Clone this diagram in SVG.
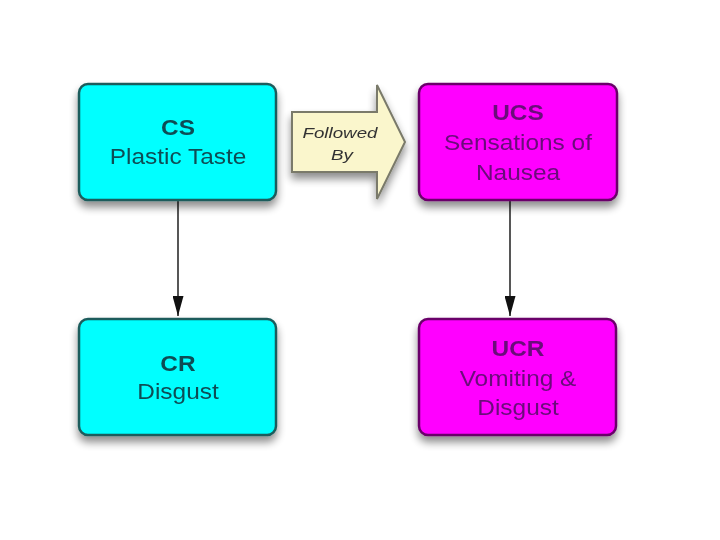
<svg xmlns="http://www.w3.org/2000/svg" width="720" height="540" viewBox="0 0 720 540">
<defs>
<filter id="sh" x="-20%" y="-20%" width="140%" height="150%">
<feGaussianBlur in="SourceAlpha" stdDeviation="4"/>
<feOffset dx="0" dy="6" result="b"/>
<feComponentTransfer><feFuncA type="linear" slope="0.45"/></feComponentTransfer>
<feMerge><feMergeNode/><feMergeNode in="SourceGraphic"/></feMerge>
</filter>
<marker id="ah" viewBox="0 0 10 10" refX="10" refY="5" markerWidth="20" markerHeight="11" orient="auto" markerUnits="userSpaceOnUse" preserveAspectRatio="none">
<path d="M0,0 L10,5 L0,10 Z" fill="#111"/>
</marker>
</defs>
<style>
.cy{fill:#00FFFF;stroke:#1b5c5c;stroke-width:2.5}
.mg{fill:#FF00FF;stroke:#6a006a;stroke-width:2.5}
.t{font-family:"Liberation Sans",Arial,sans-serif;font-size:22px;text-anchor:middle}
.b{font-weight:bold}
.tc{fill:#0d4d55}
.tm{fill:#6a0a7a}
.ft{font-family:"Liberation Sans",Arial,sans-serif;font-size:15px;font-style:italic;text-anchor:middle;fill:#333}
</style>
<rect width="720" height="540" fill="#fff"/>
<g id="connectors" stroke="#444" stroke-width="1.8" fill="none">
<line x1="178" y1="201" x2="178" y2="316" marker-end="url(#ah)"/>
<line x1="510" y1="201" x2="510" y2="316" marker-end="url(#ah)"/>
</g>
<g id="followed-by" filter="url(#sh)">
<path d="M292,112 L377,112 L377,85 L405,142 L377,199 L377,172 L292,172 Z" fill="#FAF6CC" stroke="#7a7a6a" stroke-width="2"/>
<g transform="translate(340,138) scale(1.25,1)"><text class="ft" x="0" y="0">Followed</text></g>
<g transform="translate(342,160) scale(1.25,1)"><text class="ft" x="0" y="0">By</text></g>
</g>
<g id="cs" filter="url(#sh)">
<rect class="cy" x="79" y="84" width="197" height="116" rx="9"/>
<g transform="translate(178,0) scale(1.11,1)">
<text class="t b tc" x="0" y="135">CS</text>
<text class="t tc" x="0" y="164">Plastic Taste</text>
</g>
</g>
<g id="ucs" filter="url(#sh)">
<rect class="mg" x="419" y="84" width="198" height="116" rx="9"/>
<g transform="translate(518,0) scale(1.11,1)">
<text class="t b tm" x="0" y="120">UCS</text>
<text class="t tm" x="0" y="150">Sensations of</text>
<text class="t tm" x="0" y="180">Nausea</text>
</g>
</g>
<g id="cr" filter="url(#sh)">
<rect class="cy" x="79" y="319" width="197" height="116" rx="9"/>
<g transform="translate(178,0) scale(1.11,1)">
<text class="t b tc" x="0" y="371">CR</text>
<text class="t tc" x="0" y="399">Disgust</text>
</g>
</g>
<g id="ucr" filter="url(#sh)">
<rect class="mg" x="419" y="319" width="197" height="116" rx="9"/>
<g transform="translate(518,0) scale(1.11,1)">
<text class="t b tm" x="0" y="356">UCR</text>
<text class="t tm" x="0" y="386">Vomiting &amp;</text>
<text class="t tm" x="0" y="415">Disgust</text>
</g>
</g>
</svg>
